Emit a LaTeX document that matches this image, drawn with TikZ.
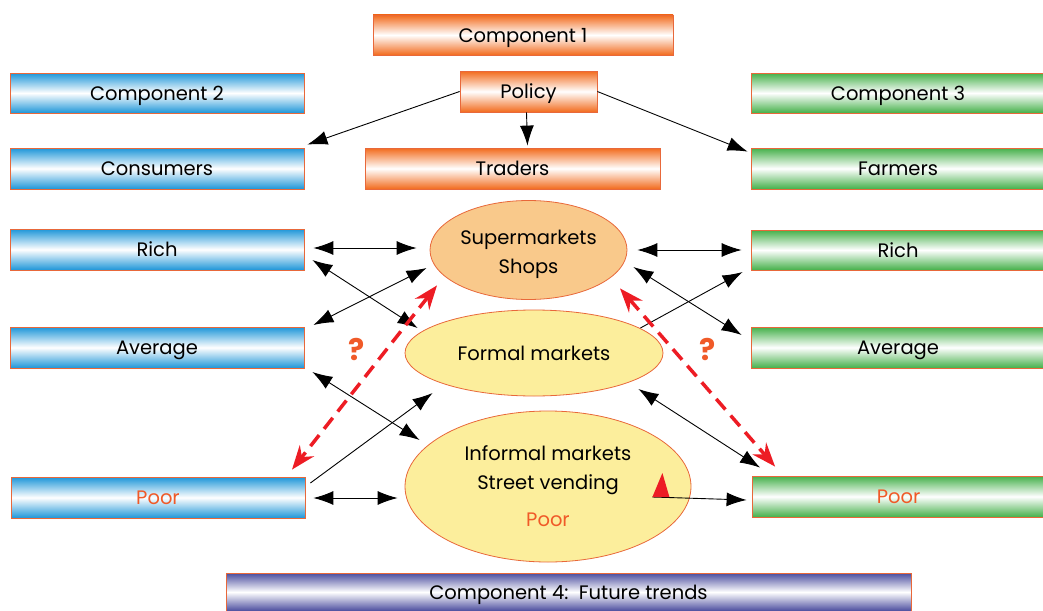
\documentclass[tikz,border=0pt]{standalone}
\usepackage{fontspec}
\setmainfont{Poppins}
\usetikzlibrary{arrows.meta,calc,shapes.geometric}
\definecolor{blueC}{HTML}{1E96D8}
\definecolor{greenC}{HTML}{45B04A}
\definecolor{orangeC}{HTML}{F26B1D}
\definecolor{purpleC}{HTML}{4A4C9E}
\definecolor{edgeC}{HTML}{E8683A}
\definecolor{supC}{HTML}{F9C98B}
\definecolor{yelC}{HTML}{FCEE9C}
\definecolor{redC}{HTML}{ED1C24}
\definecolor{txtO}{HTML}{F05A28}
\tikzset{
  boxbase/.style={rectangle, draw=edgeC, line width=0.8pt, inner sep=0pt,
    font=\fontsize{19.5}{22}\selectfont, text=black, text height=14pt, text depth=0pt},
  bluebox/.style={boxbase, top color=blueC, bottom color=blueC, middle color=white, minimum width=294pt, minimum height=41pt},
  greenbox/.style={boxbase, top color=greenC, bottom color=greenC, middle color=white, minimum width=294pt, minimum height=41pt},
  orangebox/.style={boxbase, top color=orangeC, bottom color=orangeC, middle color=white, minimum height=41pt},
  purplebox/.style={boxbase, top color=purpleC, bottom color=purpleC, middle color=white},
  mkt/.style={ellipse, draw=edgeC, line width=0.8pt, inner sep=0pt, font=\fontsize{19.5}{29}\selectfont, align=center},
  dbl/.style={line width=0.9pt, {Latex[length=20pt,width=14pt]}-{Latex[length=20pt,width=14pt]}},
  sgl/.style={line width=0.9pt, -{Latex[length=20pt,width=14pt]}},
  reddash/.style={redC, line width=3.5pt, dash pattern=on 14pt off 8pt,
    {Stealth[length=24pt,width=18pt,inset=8pt]}-{Stealth[length=24pt,width=18pt,inset=8pt]}},
  qmark/.style={text=txtO, font=\fontsize{30}{32}\selectfont\bfseries}
}
\begin{document}
\begin{tikzpicture}[x=1pt,y=-1pt]
\useasboundingbox (0,0) rectangle (1043,610);
% top row
\node[orangebox, minimum width=300pt, minimum height=40pt] (c1) at (523,35) {Component 1};
\node[orangebox, minimum width=137pt] (pol) at (528.5,91.5) {Policy};
\node[orangebox, minimum width=295pt] (tra) at (512.5,168.5) {Traders};
\node[bluebox, minimum height=40pt] (c2) at (157,93) {Component 2};
\node[bluebox] (con) at (157,168.5) {Consumers};
\node[greenbox, minimum height=40pt] (c3) at (898,93) {Component 3};
\node[greenbox] (far) at (898,168.5) {Farmers};
% left column
\node[bluebox] (rL) at (157,249.5) {Rich};
\node[bluebox] (aL) at (157,347.5) {Average};
\node[bluebox, text=txtO] (pL) at (158,497.5) {Poor};
% right column
\node[greenbox, minimum height=40pt] (rR) at (898,250) {Rich};
\node[greenbox] (aR) at (898,347.5) {Average};
\node[greenbox, minimum width=293pt, text=txtO] (pR) at (898.5,496.5) {Poor};
% bottom
\node[purplebox, minimum width=685pt, minimum height=38pt] (c4) at (568.5,592) {Component 4:\ \ Future trends};
% markets
\node[mkt, fill=supC, minimum width=197pt, minimum height=99pt,
  label={[name=supT, yshift=-4pt, font=\fontsize{19.5}{29}\selectfont, align=center]center:Supermarkets\\Shops}] (sup) at (528.5,250) {};
\node[mkt, fill=yelC, minimum width=258pt, minimum height=86pt] (for) at (534,353) {Formal markets};
\node[mkt, fill=yelC, minimum width=286pt, minimum height=151pt] (inf) at (548,486.5) {Informal markets\\Street vending\\[8pt]\textcolor{txtO}{Poor}};
% policy arrows
\draw[sgl] (pol.west) -- ($(con.north east)+(3,-3)$);
\draw[sgl] ($(pol.south)+(-2,0)$) -- ($(tra.north)+(15,-2)$);
\draw[sgl] (pol.east) -- ($(far.north west)+(-3,4)$);
% left connectors
\draw[dbl] ($(rL.east)+(9,-1.5)$) -- ($(sup.west)+(-13,-2)$);
\draw[dbl] ($(rL.east)+(8,10.5)$) -- ($(for.west)+(13,-25)$);
\draw[dbl] ($(aL.east)+(9,-22.5)$) -- ($(sup.west)+(-3,18)$);
\draw[dbl] ($(aL.east)+(8,24.5)$) -- ($(inf.west)+(15,-46.5)$);
\draw[sgl] ($(pL.east)+(5,-14.5)$) -- ($(for.west)+(28,40)$);
\draw[dbl] ($(pL.east)+(8,0.5)$) -- ($(inf.west)+(-7,11.5)$);
% right connectors
\draw[dbl] ($(sup.east)+(10,0)$) -- ($(rR.west)+(-9,0)$);
\draw[dbl] ($(sup.east)+(6,17)$) -- ($(aR.west)+(-9,-12.5)$);
\draw[sgl] ($(for.east)+(-23,-25)$) -- ($(rR.west)+(-8,22)$);
\draw[dbl] ($(for.east)+(-25,36)$) -- ($(pR.north west)+(8.5,-8)$);
\draw[sgl] ($(inf.east)+(-39,10.5)$) coordinate (tri) -- ($(pR.west)+(-5,3.5)$);
\fill[redC] (tri) -- ++(17,0) -- ++(-7,-24) -- cycle;
% red dashed
\draw[reddash] ($(sup.south)+(-91.5,-14.5)$) -- ($(pL.north)+(134,-7)$);
\draw[reddash] ($(sup.south)+(91.5,-11.5)$) -- ($(pR.north west)+(23.5,-9)$);
\node[qmark] (q1) at (357,350) {?};
\node[qmark] (q2) at (708,350) {?};
\end{tikzpicture}
\end{document}
